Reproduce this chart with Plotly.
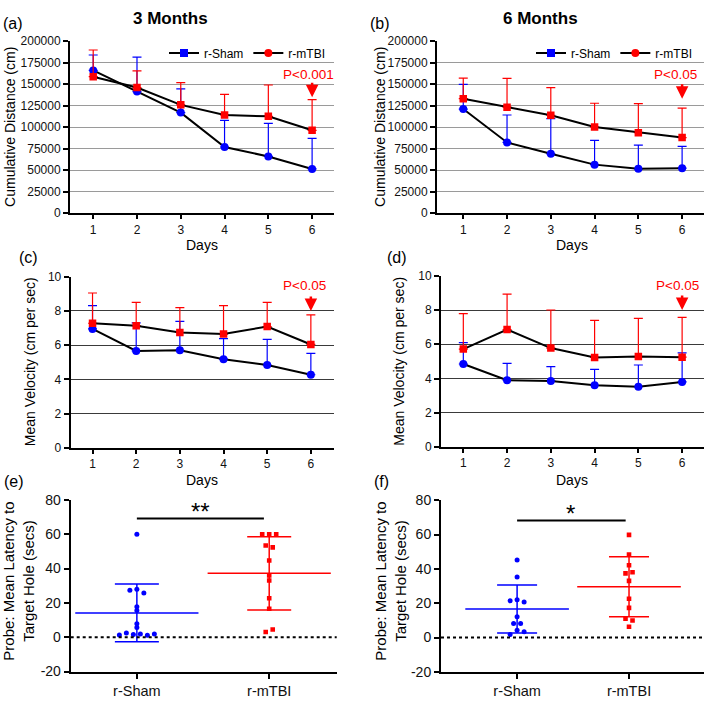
import numpy as np
import plotly.graph_objects as go

W, H = 709, 703
FONT = "Liberation Sans, Arial, sans-serif"
BLUE = "#0000FF"
RED = "#FF0000"

# ---------------- data ----------------
days = [1, 2, 3, 4, 5, 6]
groups = ["r-Sham", "r-mTBI"]
latency_ticks = [-20, 0, 20, 40, 60, 80]

# (a) 3 months cumulative distance (cm): mean and SD (upper error)
a_sham_mean = [166000, 141500, 117000, 77000, 66000, 51500]
a_sham_sd = [18000, 40000, 27500, 31000, 38500, 35500]
a_tbi_mean = [158800, 146100, 126000, 114200, 112700, 96400]
a_tbi_sd = [31000, 19400, 25800, 23900, 36400, 35600]

# (b) 6 months cumulative distance (cm)
b_sham_mean = [121100, 82300, 69100, 56500, 51600, 52400]
b_sham_sd = [28800, 31900, 40900, 28100, 27700, 25400]
b_tbi_mean = [133200, 123300, 113900, 100200, 93700, 88000]
b_tbi_sd = [23900, 33400, 32200, 27700, 33800, 34200]

# (c) 3 months mean velocity (cm/s)
c_sham_mean = [6.95, 5.66, 5.70, 5.18, 4.84, 4.27]
c_sham_sd = [1.36, 1.64, 1.69, 1.20, 1.50, 1.25]
c_tbi_mean = [7.28, 7.14, 6.74, 6.65, 7.09, 6.04]
c_tbi_sd = [1.77, 1.36, 1.45, 1.66, 1.41, 1.73]

# (d) 6 months mean velocity (cm/s)
d_sham_mean = [4.85, 3.90, 3.86, 3.61, 3.52, 3.80]
d_sham_sd = [1.25, 0.99, 0.84, 0.93, 1.27, 1.70]
d_tbi_mean = [5.72, 6.86, 5.78, 5.23, 5.28, 5.25]
d_tbi_sd = [2.07, 2.07, 2.22, 2.16, 2.23, 2.32]

# (e) 3 months probe latency (s), individual animals
e_sham = [60, 27.4, 28.0, 25.7, 17.8, 15.5, 7.9, 5.6, 1.3, 2.4, 1.6, 1.8, 1.1, 1.8]
e_tbi = [60, 60, 60, 53.4, 52.3, 44.7, 36.0, 33.0, 22.7, 16.6, 3.0, 4.5]
# (f) 6 months probe latency (s)
f_sham = [45.2, 35.3, 21.4, 22.0, 20.7, 12.1, 8.2, 8.2, 1.7, 4.2, 3.4]
f_tbi = [59.8, 48.4, 42.1, 37.4, 38.0, 33.0, 22.6, 17.3, 11.0, 9.9, 6.3]

p_labels = ["P<0.001", "P<0.05", "P<0.05", "P<0.05"]
sig_labels = ["**", "*"]

# ---------------- helpers ----------------
def fx(p):
    return p / W


def fy(p):
    return 1 - p / H


# panel boxes in px: left, right, top, bottom
boxes = {
    1: (70, 334, 34, 210),
    2: (437, 704, 34, 210),
    3: (70.7, 334, 275, 450),
    4: (441, 704, 274, 449.3),
    5: (70.7, 336.7, 503.3, 679),
    6: (441, 704, 503.7, 679.3),
}
xranges = {1: [0.47, 6.5], 2: [0.4, 6.5], 3: [0.5, 6.53], 4: [0.49, 6.5],
           5: [-0.5, 1.51], 6: [-0.68, 1.67]}

fig = go.Figure()


def ax(i):
    return ("x" if i == 1 else f"x{i}"), ("y" if i == 1 else f"y{i}")


def line_panel(i, sm, ss, tm, ts):
    xa, ya = ax(i)
    fig.add_trace(go.Scatter(
        x=days, y=sm, mode="lines+markers", xaxis=xa, yaxis=ya, showlegend=False,
        line=dict(color="black", width=2),
        marker=dict(symbol="circle", color=BLUE, size=8),
        error_y=dict(type="data", array=ss, arrayminus=[0] * len(ss), symmetric=False,
                     color=BLUE, thickness=1.2, width=4.5)))
    fig.add_trace(go.Scatter(
        x=days, y=tm, mode="lines+markers", xaxis=xa, yaxis=ya, showlegend=False,
        line=dict(color="black", width=2),
        marker=dict(symbol="square", color=RED, size=7.5),
        error_y=dict(type="data", array=ts, arrayminus=[0] * len(ts), symmetric=False,
                     color=RED, thickness=1.2, width=4.5)))


line_panel(1, a_sham_mean, a_sham_sd, a_tbi_mean, a_tbi_sd)
line_panel(2, b_sham_mean, b_sham_sd, b_tbi_mean, b_tbi_sd)
line_panel(3, c_sham_mean, c_sham_sd, c_tbi_mean, c_tbi_sd)
line_panel(4, d_sham_mean, d_sham_sd, d_tbi_mean, d_tbi_sd)

# legend entries (as drawn in the original: sham = blue square, mTBI = red circle)
for i, lg in [(1, "legend"), (2, "legend2")]:
    xa, ya = ax(i)
    fig.add_trace(go.Scatter(x=[None], y=[None], mode="lines+markers", name="r-Sham",
                             legend=lg, xaxis=xa, yaxis=ya,
                             line=dict(color="black", width=2),
                             marker=dict(symbol="square", color=BLUE, size=8)))
    fig.add_trace(go.Scatter(x=[None], y=[None], mode="lines+markers", name="r-mTBI",
                             legend=lg, xaxis=xa, yaxis=ya,
                             line=dict(color="black", width=2),
                             marker=dict(symbol="circle", color=RED, size=8)))


def swarm(vals, tol, step):
    vals = np.asarray(vals, dtype=float)
    order = np.argsort(vals, kind="stable")
    rows, cur = [], [order[0]]
    for k in order[1:]:
        if vals[k] - vals[cur[-1]] < tol:
            cur.append(k)
        else:
            rows.append(cur)
            cur = [k]
    rows.append(cur)
    off = np.zeros(len(vals))
    for r in rows:
        r = sorted(r)
        n = len(r)
        for j, k in enumerate(r):
            off[k] = (j - (n - 1) / 2) * step
    return off


def dot_panel(i, sham, tbi, mean_px, cap_px):
    xa, ya = ax(i)
    l, r, t, b = boxes[i]
    step = 7 * (xranges[i][1] - xranges[i][0]) / (r - l)
    for gi, (vals, col, sym, sz) in enumerate([(sham, BLUE, "circle", 5),
                                                (tbi, RED, "square", 4.6)]):
        m = float(np.mean(vals))
        s = float(np.std(vals, ddof=1))
        fig.add_trace(go.Scatter(
            x=[gi], y=[m], mode="markers", xaxis=xa, yaxis=ya, showlegend=False,
            marker=dict(symbol="line-ew", size=mean_px, color=col,
                        line=dict(color=col, width=1.5)),
            error_y=dict(type="data", array=[s], symmetric=True, color=col,
                         thickness=1.5, width=cap_px)))
        off = swarm(vals, 1.75, step)
        fig.add_trace(go.Scatter(
            x=gi + off, y=vals, mode="markers", xaxis=xa, yaxis=ya, showlegend=False,
            marker=dict(symbol=sym, color=col, size=sz)))


dot_panel(5, e_sham, e_tbi, 88, 22)
dot_panel(6, f_sham, f_tbi, 74, 20)

# ---------------- axes ----------------
layout = dict(
    width=W, height=H, margin=dict(l=0, r=0, t=0, b=0),
    paper_bgcolor="white", plot_bgcolor="white",
    font=dict(family=FONT, color="black", size=12),
    showlegend=True,
)

for i in range(1, 7):
    l, r, t, b = boxes[i]
    xk = "xaxis" if i == 1 else f"xaxis{i}"
    yk = "yaxis" if i == 1 else f"yaxis{i}"
    xa, ya = ax(i)
    xd = dict(domain=[fx(l), fx(r)], range=xranges[i], anchor=ya,
              showline=True, linecolor="black", linewidth=2, ticks="outside",
              ticklen=4, tickwidth=1.5, tickcolor="black", showgrid=False,
              zeroline=False, fixedrange=True)
    yd = dict(domain=[fy(b), fy(t)], anchor=xa, showline=True, linecolor="black",
              linewidth=2, ticks="outside", ticklen=5, tickwidth=1.5,
              tickcolor="black", zeroline=False, fixedrange=True)
    if i <= 4:
        xd.update(tickvals=days, ticktext=[str(d) for d in days],
                  tickfont=dict(size=12, color="#111"))
        if i <= 2:
            yd.update(range=[0, 200000], dtick=25000, tick0=0, tickformat="d",
                      showgrid=True, gridcolor="#9a9a9a", gridwidth=1.3,
                      tickfont=dict(size=12, color="#111"))
        else:
            yd.update(range=[0, 10], dtick=2, tick0=0, showgrid=True,
                      gridcolor="#3a3a3a", gridwidth=1.2,
                      tickfont=dict(size=12, color="#111"))
    else:
        xd.update(tickvals=[0, 1], ticktext=groups, tickfont=dict(size=14.5, color="#111"),
                  ticklen=5)
        yd.update(range=[-20, 80], tickvals=latency_ticks,
                  ticktext=[str(v) for v in latency_ticks], showgrid=False,
                  tickfont=dict(size=14, color="#111"))
    layout[xk] = xd
    layout[yk] = yd

layout["legend"] = dict(orientation="h", x=fx(164), y=fy(46), xanchor="left",
                        yanchor="middle", font=dict(size=12), itemwidth=30,
                        bgcolor="rgba(0,0,0,0)", traceorder="normal")
layout["legend2"] = dict(orientation="h", x=fx(531), y=fy(46), xanchor="left",
                         yanchor="middle", font=dict(size=12), itemwidth=30,
                         bgcolor="rgba(0,0,0,0)", traceorder="normal")

ann = []


def txt(text, x, y, size, **kw):
    d = dict(text=text, x=fx(x), y=fy(y), xref="paper", yref="paper",
             showarrow=False, font=dict(size=size, family=FONT, color="black"),
             xanchor="center", yanchor="middle")
    d.update(kw)
    ann.append(d)


for lab, x, y in [("(a)", 13, 15.5), ("(b)", 380, 15.5), ("(c)", 28.5, 255.5),
                  ("(d)", 396.5, 255.5), ("(e)", 14, 484.5), ("(f)", 381, 484.5)]:
    txt(lab, x, y, 16)

txt("<b>3 Months</b>", 170, 11, 17)
txt("<b>6 Months</b>", 540.6, 11, 17)

for x, y in [(202, 243), (572, 243), (202, 483), (572, 483)]:
    txt("Days", x, y, 14)

txt("Cumulative Distance (cm)", 10.7, 122, 14, textangle=-90)
txt("Cumulative Distance (cm)", 380.7, 122, 14, textangle=-90)
txt("Mean Velocity (cm per sec)", 30, 362.5, 14, textangle=-90)
txt("Mean Velocity (cm per sec)", 399, 362, 14, textangle=-90)
txt("Probe: Mean Latency to<br>Target Hole (secs)", 19, 587, 15, textangle=-90)
txt("Probe: Mean Latency to<br>Target Hole (secs)", 391, 587, 15, textangle=-90)

# P-value markers at day 6
p_spec = [(1, 135000, 68, -4), (2, 133000, 68, -7), (3, 8.0, 284, -6.5), (4, 8.0, 284, -5)]
for (i, ytip, ytext, xs), lab in zip(p_spec, p_labels):
    xa, ya = ax(i)
    ann.append(dict(text=lab, x=days[-1], xref=xa, y=fy(ytext), yref="paper",
                    xshift=xs, showarrow=False, xanchor="center", yanchor="middle",
                    font=dict(size=13.5, family=FONT, color=RED)))
    ann.append(dict(text="", x=days[-1], xref=xa, y=ytip, yref=ya, showarrow=True,
                    ax=0, ay=-16, arrowhead=2, arrowsize=1, arrowwidth=2.5,
                    arrowcolor=RED))

# significance stars
shapes = []
for i, x1, ybar, xs, lab in [(5, 0.96, 69.2, 0.48, sig_labels[0]),
                             (6, 0.97, 68.2, 0.476, sig_labels[1])]:
    xa, ya = ax(i)
    shapes.append(dict(type="line", xref=xa, yref=ya, x0=0, x1=x1, y0=ybar, y1=ybar,
                       line=dict(color="black", width=2)))
    ann.append(dict(text=lab, x=xs, xref=xa, y=ybar, yref=ya, showarrow=False,
                    xanchor="center", yanchor="bottom", yshift=-9,
                    font=dict(size=24, family=FONT, color="black")))
    shapes.append(dict(type="line", xref=f"{xa} domain", yref=ya, x0=0, x1=1, y0=0, y1=0,
                       line=dict(color="black", width=2, dash="dot")))

layout["annotations"] = ann
layout["shapes"] = shapes
fig.update_layout(**layout)
fig.write_html("out.html", config={"displayModeBar": False},
               post_script="document.body.style.margin='0';document.body.style.overflow='hidden';")
